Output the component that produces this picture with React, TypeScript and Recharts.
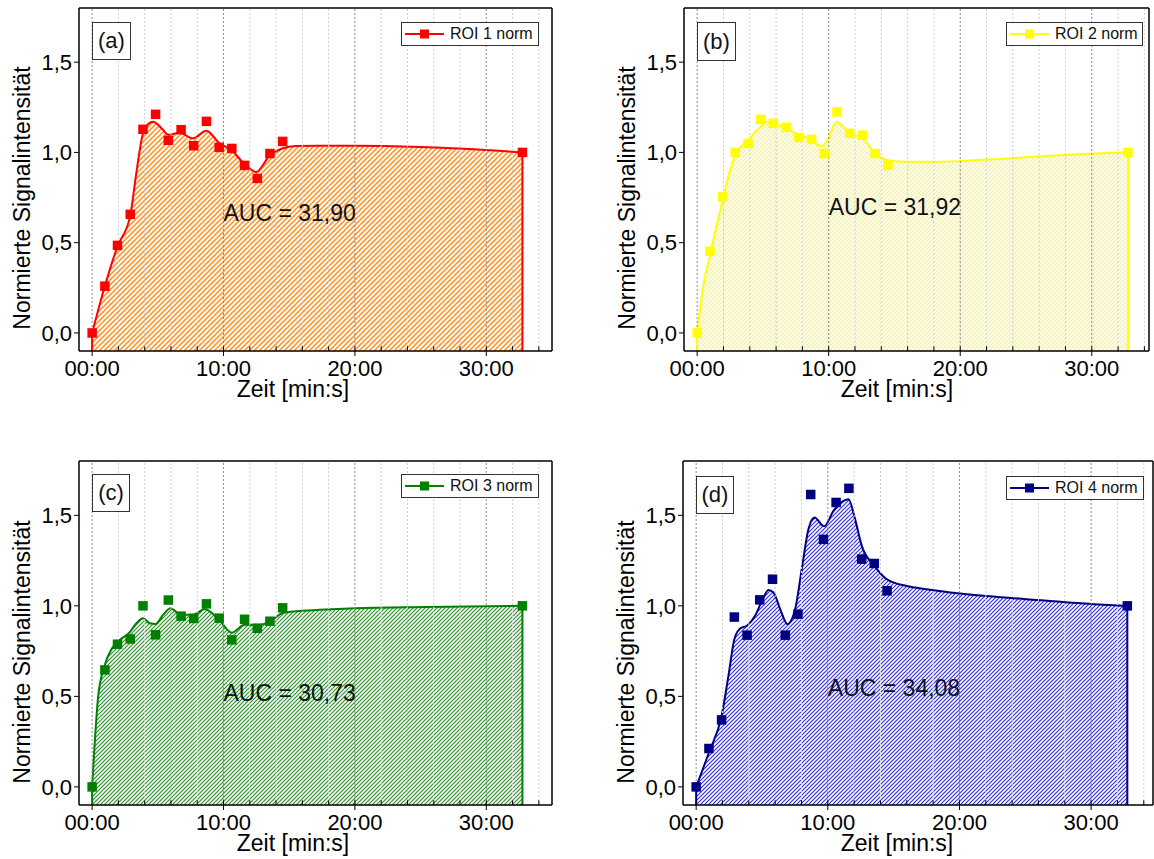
import React from 'react';
import {
  ComposedChart,
  Area,
  Scatter,
  XAxis,
  YAxis,
  ReferenceLine,
  ReferenceDot,
} from 'recharts';

// ---------- data ----------
// measured sample times in minutes
const sampleTimes = [0, 0.97, 1.93, 2.9, 3.87, 4.83, 5.8, 6.77, 7.73, 8.7, 9.67, 10.63, 11.6, 12.57, 13.53, 14.5, 32.75];

const roi1Values = [0, 0.259, 0.485, 0.657, 1.128, 1.211, 1.067, 1.126, 1.037, 1.172, 1.028, 1.022, 0.928, 0.856, 0.994, 1.061, 1.0];
const roi2Values = [0, 0.453, 0.753, 1.0, 1.05, 1.183, 1.161, 1.139, 1.083, 1.072, 0.994, 1.224, 1.106, 1.096, 0.994, 0.928, 1.0];
const roi3Values = [0, 0.646, 0.788, 0.817, 1.0, 0.84, 1.032, 0.943, 0.93, 1.011, 0.932, 0.812, 0.926, 0.876, 0.915, 0.989, 1.0];
const roi4Values = [0, 0.212, 0.37, 0.938, 0.838, 1.033, 1.147, 0.838, 0.954, 1.615, 1.367, 1.571, 1.649, 1.258, 1.234, 1.083, 1.0];

// smoothed curves
const roi1CurveTimes = [0, 0.97, 1.93, 2.9, 3.37, 3.87, 4.38, 4.64, 5.3, 5.8, 6.66, 7.68, 8.69, 9.7, 10.6, 11.55, 12.49, 13.53, 14.47, 15.5, 17.3, 20, 25, 30, 32.75];
const roi1CurveValues = [0, 0.26, 0.48, 0.65, 0.89, 1.105, 1.164, 1.17, 1.133, 1.098, 1.109, 1.078, 1.12, 1.05, 1.013, 0.939, 0.892, 0.985, 1.022, 1.035, 1.037, 1.037, 1.03, 1.013, 1.0];

const roi2CurveTimes = [0, 0.45, 0.97, 1.93, 2.49, 2.9, 3.87, 4.83, 5.4, 5.8, 6.77, 7.73, 8.7, 9.33, 9.84, 10.6, 11.1, 11.6, 12.57, 13.53, 14.5, 15.92, 17.9, 20, 23.5, 28.6, 32.75];
const roi2CurveValues = [0, 0.253, 0.43, 0.735, 0.9, 0.985, 1.068, 1.142, 1.17, 1.161, 1.133, 1.096, 1.072, 1.035, 1.059, 1.17, 1.142, 1.106, 1.078, 0.994, 0.957, 0.948, 0.948, 0.952, 0.967, 0.989, 1.0];

const roi3CurveTimes = [0, 0.46, 0.97, 1.47, 1.93, 2.9, 3.37, 3.87, 4.38, 4.83, 5.4, 5.96, 6.77, 7.73, 8.56, 9.67, 10.63, 11.6, 12.57, 13.53, 14.5, 15.5, 17.3, 20, 25.4, 32.75];
const roi3CurveValues = [0, 0.5, 0.675, 0.76, 0.8, 0.858, 0.904, 0.932, 0.904, 0.9, 0.95, 0.987, 0.95, 0.952, 0.982, 0.922, 0.852, 0.895, 0.895, 0.913, 0.96, 0.97, 0.978, 0.987, 0.994, 1.0];

const roi4CurveTimes = [0, 0.97, 1.93, 2.45, 2.9, 3.34, 3.85, 4.48, 5.11, 5.49, 5.87, 6.38, 6.94, 7.52, 8.02, 8.53, 8.99, 9.72, 10.43, 11.19, 11.57, 12.07, 12.58, 13.54, 14.48, 16.0, 17.5, 20.05, 25.1, 30.2, 32.75];
const roi4CurveValues = [0, 0.19, 0.392, 0.613, 0.816, 0.875, 0.89, 0.945, 1.046, 1.088, 1.074, 0.982, 0.899, 0.982, 1.203, 1.424, 1.488, 1.439, 1.525, 1.58, 1.589, 1.479, 1.331, 1.221, 1.147, 1.11, 1.092, 1.068, 1.037, 1.009, 1.0];

const seriesNames = ['ROI 1 norm', 'ROI 2 norm', 'ROI 3 norm', 'ROI 4 norm'];
const panelLabels = ['(a)', '(b)', '(c)', '(d)'];
const aucLabels = ['AUC = 31,90', 'AUC = 31,92', 'AUC = 30,73', 'AUC = 34,08'];
const aucX = [10, 10, 10, 10];
const aucY = [0.668, 0.698, 0.517, 0.549];

// ticks
const xMajorTicks = [0, 10, 20, 30];
const xMinorTicks = [0, 2, 4, 6, 8, 10, 12, 14, 16, 18, 20, 22, 24, 26, 28, 30, 32, 34];
const yMajorTicks = [0, 0.5, 1, 1.5];
const yMinorTicks = [-0.1, 0, 0.1, 0.2, 0.3, 0.4, 0.5, 0.6, 0.7, 0.8, 0.9, 1, 1.1, 1.2, 1.3, 1.4, 1.5, 1.6, 1.7, 1.8];
const yDomain = [-0.1, 1.8];
const innerTickLen = 0.026; // inner x tick length in y units

const xTitle = 'Zeit [min:s]';
const yTitle = 'Normierte Signalintensität';

// ---------- styling / layout ----------
const FONT = '"Liberation Sans", Arial, Helvetica, sans-serif';

const panels = [
  {
    values: roi1Values, curveT: roi1CurveTimes, curveV: roi1CurveValues,
    color: '#ff0000', hatch: '#ff9a33', hatchW: 1.6, hatchGap: 5,
    left: 0, top: 0, width: 560, height: 410, right: 8, yW: 79, xH: 59, xMax: 35,
    legend: { left: 401, top: 22, w: 138, h: 24 }, tag: { left: 92, top: 22, w: 39, h: 38 },
    yt: { x: 22, y: 198 }, xt: { x: 293, y: 376 },
  },
  {
    values: roi2Values, curveT: roi2CurveTimes, curveV: roi2CurveValues,
    color: '#ffff00', hatch: '#f3f383', hatchW: 1.2, hatchGap: 4,
    left: 600, top: 0, width: 554, height: 410, right: 5, yW: 84, xH: 59, xMax: 34.35,
    legend: { left: 1006, top: 22, w: 137, h: 24 }, tag: { left: 697, top: 22, w: 39, h: 39 },
    yt: { x: 627, y: 198 }, xt: { x: 897, y: 376 },
  },
  {
    values: roi3Values, curveT: roi3CurveTimes, curveV: roi3CurveValues,
    color: '#008000', hatch: '#2e8e2e', hatchW: 1.2, hatchGap: 4,
    left: 0, top: 453, width: 560, height: 406, right: 8, yW: 79, xH: 54, xMax: 35,
    legend: { left: 401, top: 474, w: 138, h: 24 }, tag: { left: 92, top: 474, w: 38, h: 38 },
    yt: { x: 22, y: 652 }, xt: { x: 293, y: 830 },
  },
  {
    values: roi4Values, curveT: roi4CurveTimes, curveV: roi4CurveValues,
    color: '#000080', hatch: '#3333d8', hatchW: 1.2, hatchGap: 4,
    left: 600, top: 453, width: 554, height: 406, right: 1, yW: 83, xH: 54, xMax: 34.7,
    legend: { left: 1006, top: 476, w: 138, h: 24 }, tag: { left: 696, top: 476, w: 38, h: 38 },
    yt: { x: 626, y: 652 }, xt: { x: 897, y: 830 },
  },
];

const fmtTime = (v: number) => `${String(v).padStart(2, '0')}:00`;
const fmtVal = (v: number) => v.toFixed(1).replace('.', ',');

function HatchDefs() {
  return (
    <svg width={0} height={0} style={{ position: 'absolute', left: 0, top: 0 }}>
      <defs>
        {panels.map((p, i) => {
          const g = p.hatchGap;
          return (
            <pattern key={i} id={`roiHatch${i}`} patternUnits="userSpaceOnUse" width={g} height={g}>
              <rect width={g} height={g} fill="#ffffff" />
              <path
                d={`M-1,1 l2,-2 M0,${g} l${g},-${g} M${g - 1},${g + 1} l2,-2`}
                stroke={p.hatch}
                strokeWidth={p.hatchW}
              />
            </pattern>
          );
        })}
      </defs>
    </svg>
  );
}

function Panel({ idx }: { idx: number }) {
  const p = panels[idx];
  const curve = p.curveT.map((t, i) => ({ t, v: p.curveV[i] }));
  const points = sampleTimes.map((t, i) => ({ t, v: p.values[i] }));
  const first = curve[0];
  const last = curve[curve.length - 1];
  const xDomain = [-1, p.xMax];
  const minorOnly = xMinorTicks.filter((t) => !xMajorTicks.includes(t));
  const Square = (props: any) => (
    <rect x={props.cx - 4.75} y={props.cy - 4.75} width={9.5} height={9.5} fill={p.color} />
  );
  return (
    <div style={{ position: 'absolute', left: p.left, top: p.top }}>
      <ComposedChart
        width={p.width}
        height={p.height}
        data={curve}
        margin={{ top: 8, right: p.right, left: 0, bottom: 0 }}
      >
        <XAxis
          xAxisId="main" dataKey="t" type="number" domain={xDomain} allowDataOverflow
          ticks={xMajorTicks} interval={0} tickFormatter={fmtTime} height={p.xH}
          tickSize={5} tickMargin={4}
          axisLine={{ stroke: '#000', strokeWidth: 1.5 }} tickLine={{ stroke: '#000' }}
          tick={{ fill: '#000', fontSize: 22, fontFamily: FONT }}
        />
        <XAxis
          xAxisId="top" orientation="top" dataKey="t" type="number" domain={xDomain} allowDataOverflow
          ticks={xMajorTicks} interval={0} mirror tick={false} tickLine={false}
          axisLine={{ stroke: '#000', strokeWidth: 1.5 }}
        />
        <YAxis
          yAxisId="main" dataKey="v" type="number" domain={yDomain} allowDataOverflow
          ticks={yMajorTicks} interval={0} tickFormatter={fmtVal} width={p.yW}
          tickSize={5} tickMargin={2}
          axisLine={{ stroke: '#000', strokeWidth: 1.5 }} tickLine={{ stroke: '#000' }}
          tick={{ fill: '#000', fontSize: 22, fontFamily: FONT }}
        />
        <YAxis
          yAxisId="minorL" type="number" domain={yDomain} allowDataOverflow
          ticks={yMinorTicks} interval={0} mirror tick={false} axisLine={false}
          tickSize={4} tickLine={{ stroke: '#000' }}
        />
        <YAxis
          yAxisId="right" orientation="right" type="number" domain={yDomain} allowDataOverflow
          ticks={yMinorTicks} interval={0} mirror tick={false}
          axisLine={{ stroke: '#000', strokeWidth: 1.5 }}
          tickSize={4} tickLine={{ stroke: '#000' }}
        />
        <Area
          xAxisId="main" yAxisId="main" type="monotone" dataKey="v"
          stroke={p.color} strokeWidth={2} fill={`url(#roiHatch${idx})`} fillOpacity={1}
          baseValue={yDomain[0]} dot={false} activeDot={false} isAnimationActive={false}
        />
        {minorOnly.map((t) => (
          <ReferenceLine
            key={`mg${t}`} xAxisId="main" yAxisId="main" x={t}
            stroke="#cfcfcf" strokeWidth={1} strokeDasharray="2 2"
          />
        ))}
        {xMajorTicks.map((t) => (
          <ReferenceLine
            key={`Mg${t}`} xAxisId="main" yAxisId="main" x={t}
            stroke="#8a8a8a" strokeWidth={1} strokeDasharray="2 2"
          />
        ))}
        {xMinorTicks.map((t) => (
          <ReferenceLine
            key={`it${t}`} xAxisId="main" yAxisId="main"
            segment={[{ x: t, y: yDomain[0] }, { x: t, y: yDomain[0] + innerTickLen }]}
            stroke="#000" strokeWidth={1}
          />
        ))}
        <ReferenceLine
          xAxisId="main" yAxisId="main"
          segment={[{ x: first.t, y: yDomain[0] }, { x: first.t, y: first.v }]}
          stroke={p.color} strokeWidth={2}
        />
        <ReferenceLine
          xAxisId="main" yAxisId="main"
          segment={[{ x: last.t, y: yDomain[0] }, { x: last.t, y: last.v }]}
          stroke={p.color} strokeWidth={2}
        />
        <Scatter
          xAxisId="main" yAxisId="main" data={points} dataKey="v"
          fill={p.color} shape={Square} isAnimationActive={false}
        />
        <ReferenceDot
          xAxisId="main" yAxisId="main" x={aucX[idx]} y={aucY[idx]} r={0}
          fill="none" stroke="none"
          label={{ value: aucLabels[idx], position: 'right', offset: 0, fill: '#111', fontSize: 23, fontFamily: FONT }}
        />
      </ComposedChart>
    </div>
  );
}

function Overlays({ idx }: { idx: number }) {
  const p = panels[idx];
  return (
    <>
      <div
        style={{
          position: 'absolute', left: p.tag.left, top: p.tag.top, width: p.tag.w, height: p.tag.h,
          boxSizing: 'border-box', border: '1px solid #333', background: '#fff',
          display: 'flex', alignItems: 'center', justifyContent: 'center',
          fontFamily: FONT, fontSize: 22, color: '#111',
        }}
      >
        {panelLabels[idx]}
      </div>
      <div
        style={{
          position: 'absolute', left: p.legend.left, top: p.legend.top, width: p.legend.w, height: p.legend.h,
          boxSizing: 'border-box', border: '1px solid #333', background: '#fff',
          display: 'flex', alignItems: 'center', paddingLeft: 3,
          fontFamily: FONT, fontSize: 16, color: '#111', whiteSpace: 'nowrap',
        }}
      >
        <svg width={39} height={12} style={{ marginRight: 6, flex: 'none' }}>
          <line x1={0} y1={6} x2={39} y2={6} stroke={p.color} strokeWidth={2} />
          <rect x={15} y={1.5} width={9} height={9} fill={p.color} />
        </svg>
        <span>{seriesNames[idx]}</span>
      </div>
      <div
        style={{
          position: 'absolute', left: p.yt.x, top: p.yt.y,
          transform: 'translate(-50%, -50%) rotate(-90deg)',
          fontFamily: FONT, fontSize: 23, color: '#000', whiteSpace: 'nowrap',
        }}
      >
        {yTitle}
      </div>
      <div
        style={{
          position: 'absolute', left: p.xt.x, top: p.xt.y,
          transform: 'translate(-50%, 0)',
          fontFamily: FONT, fontSize: 23, color: '#000', whiteSpace: 'nowrap',
        }}
      >
        {xTitle}
      </div>
    </>
  );
}

export default function App() {
  return (
    <div
      style={{
        position: 'absolute', left: 0, top: 0, width: 1154, height: 859,
        overflow: 'hidden', background: '#fff',
      }}
    >
      <HatchDefs />
      {[0, 1, 2, 3].map((i) => (
        <Panel key={`p${i}`} idx={i} />
      ))}
      {[0, 1, 2, 3].map((i) => (
        <Overlays key={`o${i}`} idx={i} />
      ))}
    </div>
  );
}
